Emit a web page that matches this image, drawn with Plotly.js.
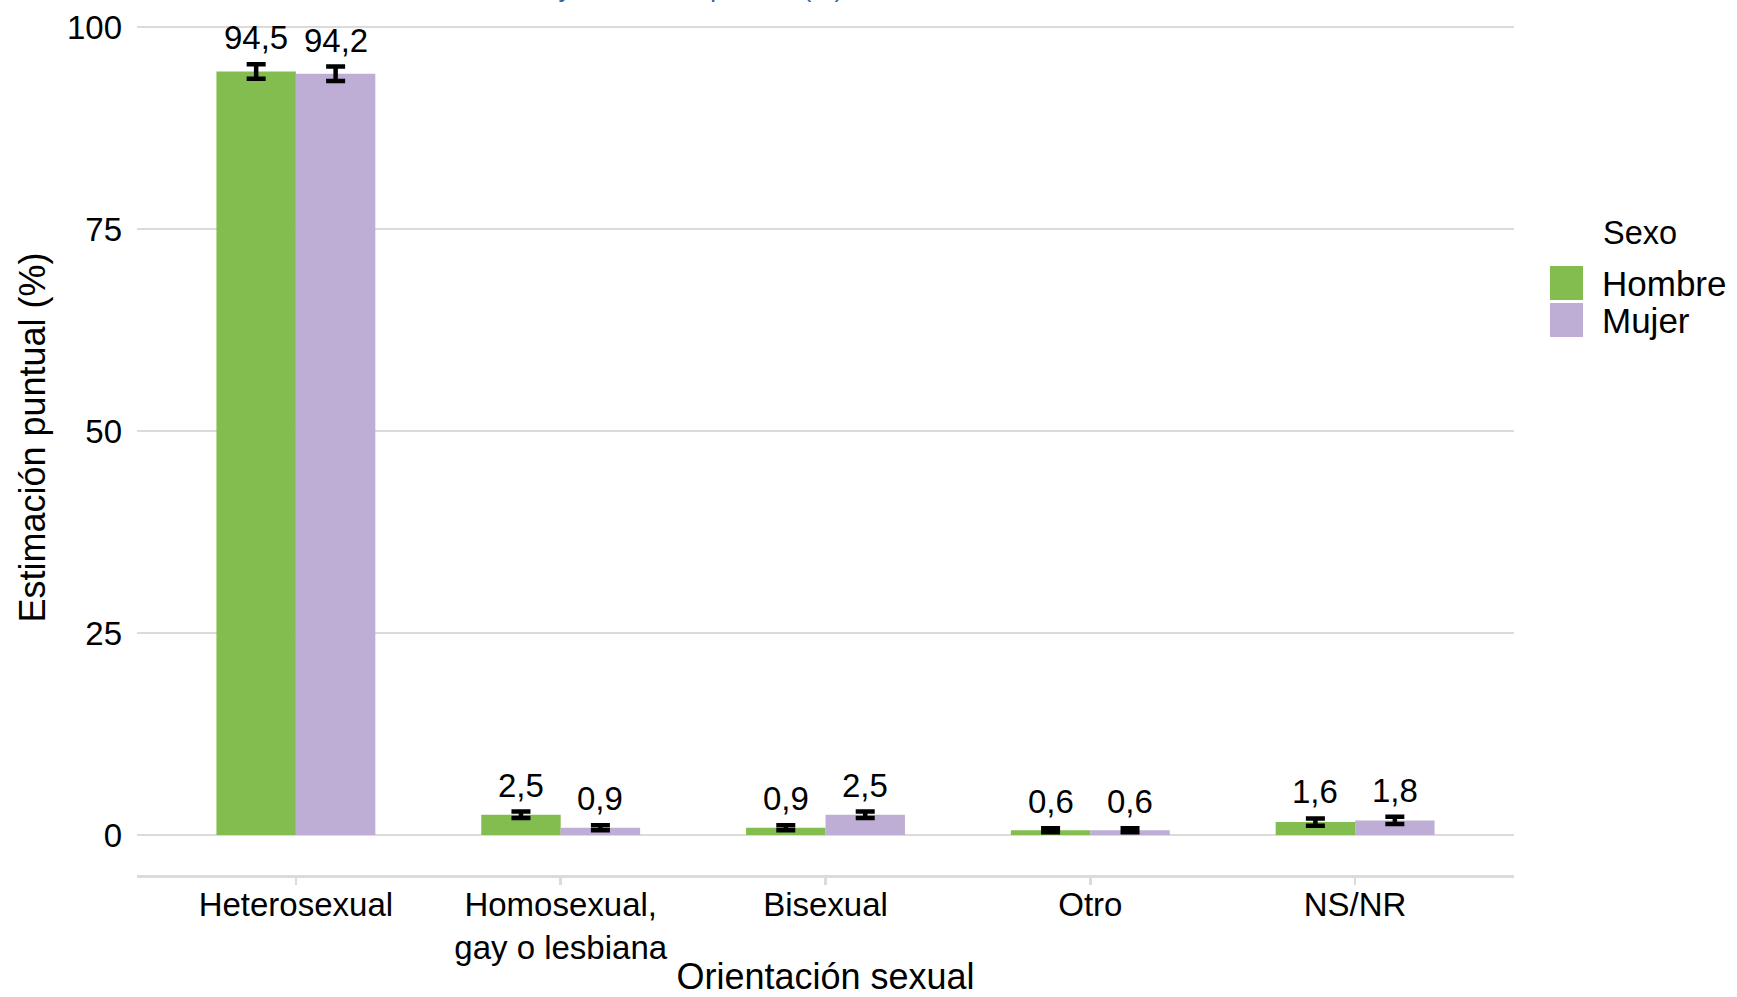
<!DOCTYPE html>
<html>
<head>
<meta charset="utf-8">
<script src="https://cdn.plot.ly/plotly-3.0.1.min.js"></script>
<style>html,body{margin:0;padding:0;background:#fff;}#chart{width:1737px;height:997px;}</style>
</head>
<body>
<div id="chart"></div>
<script>
// ---- data ----
const categories = ["Heterosexual", "Homosexual,<br>gay o lesbiana", "Bisexual", "Otro", "NS/NR"];
const seriesNames = ["Hombre", "Mujer"];
const hombreValues = [94.5, 2.5, 0.9, 0.6, 1.6];
const mujerValues  = [94.2, 0.9, 2.5, 0.6, 1.8];
const hombreErr = [0.9, 0.4, 0.3, 0.25, 0.45];
const mujerErr  = [0.9, 0.3, 0.4, 0.25, 0.45];
const hombreLabels = ["94,5", "2,5", "0,9", "0,6", "1,6"];
const mujerLabels  = ["94,2", "0,9", "2,5", "0,6", "1,8"];
const yTickVals = [0, 25, 50, 75, 100];
const titleText = "Orientación sexual de cada sexo y estimación puntual (%)";
const captionText = "Elaborado por: Departamento de Estadística/Ministerio";
const legendTitle = "Sexo";

// ---- style ----
const W = 1737, H = 997;
const M = {l: 137, r: 223, t: 0, b: 122};
const PW = W - M.l - M.r, PH = H - M.t - M.b;
const colors = {Hombre: "#84BD4F", Mujer: "#BEADD4"};
const FONT = "Liberation Sans, Arial, Helvetica, sans-serif";
const gridColor = "#DBDBDB";
const px2x = p => (p - M.l) / PW;
const px2y = p => (H - M.b - p) / PH;
const barOffsetPx = 0.15 * PW / 5.2;

function barTrace(name, vals, errs) {
  return {
    type: "bar", name: name, x: categories, y: vals,
    marker: {color: colors[name], line: {width: 0}},
    error_y: {type: "data", array: errs, visible: true, color: "#000", thickness: 4.5, width: 9.5},
    showlegend: false, hoverinfo: "x+y"
  };
}

const data = [
  barTrace(seriesNames[0], hombreValues, hombreErr),
  barTrace(seriesNames[1], mujerValues, mujerErr)
];

const annotations = [];
function addLabels(vals, errs, labels, shift) {
  vals.forEach((v, i) => {
    annotations.push({
      x: categories[i], y: v + errs[i], xref: "x", yref: "y",
      text: labels[i], showarrow: false, xanchor: "center", yanchor: "bottom",
      xshift: shift, yshift: 6,
      font: {family: FONT, size: 33, color: "#000"}
    });
  });
}
addLabels(hombreValues, hombreErr, hombreLabels, -barOffsetPx);
addLabels(mujerValues, mujerErr, mujerLabels, barOffsetPx);

// title (cropped at top in the reference)
annotations.push({
  x: px2x(845), y: 1, xref: "paper", yref: "paper", xanchor: "right", yanchor: "bottom",
  yshift: -5, text: titleText, showarrow: false,
  font: {family: FONT, size: 26, color: "#36649E"}
});
// caption (cropped at bottom)
annotations.push({
  x: px2x(1072), y: px2y(993), xref: "paper", yref: "paper", xanchor: "left", yanchor: "top",
  text: captionText, showarrow: false,
  font: {family: FONT, size: 20, color: "#8A8A8A"}
});

// legend (manual, large swatches)
annotations.push({
  x: px2x(1601), y: px2y(233), xref: "paper", yref: "paper", xanchor: "left", yanchor: "middle",
  text: legendTitle, showarrow: false, font: {family: FONT, size: 32.5, color: "#000"}
});
const shapes = [];
const legendRows = [[266, 300], [303, 337]];
seriesNames.forEach((n, i) => {
  const [y0, y1] = legendRows[i];
  shapes.push({type: "rect", xref: "paper", yref: "paper",
    x0: px2x(1550), x1: px2x(1583), y0: px2y(y1), y1: px2y(y0),
    fillcolor: colors[n], line: {width: 0}});
  annotations.push({
    x: px2x(1600), y: px2y((y0 + y1) / 2), xref: "paper", yref: "paper",
    xanchor: "left", yanchor: "middle", text: n, showarrow: false,
    font: {family: FONT, size: 35, color: "#000"}
  });
});

const layout = {
  width: W, height: H,
  margin: M,
  paper_bgcolor: "#fff", plot_bgcolor: "#fff",
  font: {family: FONT, color: "#000"},
  barmode: "group", bargap: 0.4, bargroupgap: 0,
  showlegend: false,
  xaxis: {
    type: "category", range: [-0.6, 4.6],
    showgrid: false, zeroline: false,
    showline: true, linecolor: gridColor, linewidth: 2.5,
    ticks: "outside", ticklen: 7, tickwidth: 2.5, tickcolor: gridColor,
    ticklabelstandoff: -8,
    tickfont: {family: FONT, size: 33, color: "#000"},
    title: {text: "Orientación sexual", font: {family: FONT, size: 36, color: "#000"}, standoff: 26},
    automargin: false
  },
  yaxis: {
    range: [-4.95, 103.34],
    tickvals: yTickVals, ticktext: yTickVals.map(String),
    showgrid: true, gridcolor: gridColor, gridwidth: 2.5,
    zeroline: false, showline: false, ticks: "",
    ticklabelstandoff: 14,
    tickfont: {family: FONT, size: 33, color: "#000"},
    title: {text: "Estimación puntual (%)", font: {family: FONT, size: 36, color: "#000"}, standoff: 10},
    automargin: false
  },
  annotations: annotations,
  shapes: shapes
};

Plotly.newPlot("chart", data, layout, {displayModeBar: false, staticPlot: true});
</script>
</body>
</html>
